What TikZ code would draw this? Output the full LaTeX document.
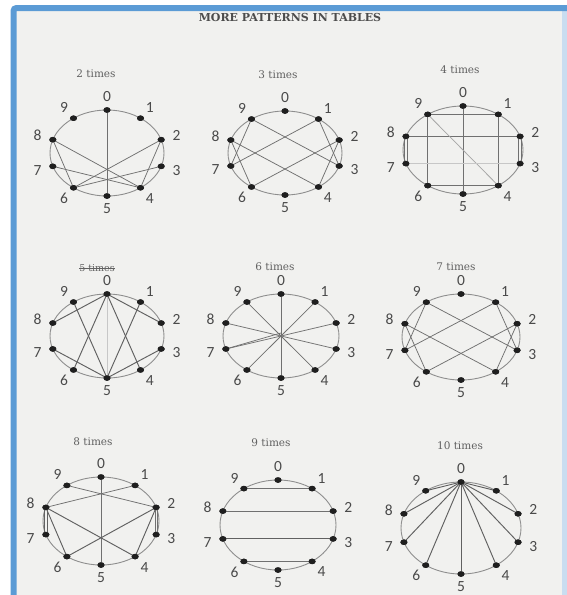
\documentclass[tikz,border=0pt]{standalone}
\usepackage{fontspec}
\setmainfont{DejaVu Serif}
\newfontfamily\digitfont{Carlito}
\usetikzlibrary{calc,shapes.geometric}
\definecolor{frameblue}{HTML}{5B9BD5}
\definecolor{paleblue}{HTML}{C9DDF0}
\definecolor{paper}{HTML}{F1F1EF}
\definecolor{ink}{HTML}{707070}
\definecolor{rim}{HTML}{8E8E8E}
\definecolor{numink}{HTML}{4A4A4A}
\tikzset{
  x=1pt, y=-1pt,
  dot/.style={ellipse, fill=black!88, inner sep=0pt, minimum width=7pt, minimum height=5.5pt},
  numlab/.style={font=\digitfont\fontsize{15.5}{15.5}\selectfont, text=numink, inner sep=0pt},
  rimline/.style={draw=rim, line width=0.9pt},
  chord/.style={draw=ink, line width=0.75pt},
  darkchord/.style={draw=black!62, line width=0.95pt},
  faintchord/.style={draw=black!22, line width=0.5pt},
  ttl/.style={font=\fontsize{10.5}{10.5}\selectfont, text=black!62, inner sep=0pt},
  headttl/.style={font=\bfseries\fontsize{11}{11}\selectfont, text=black!70, inner sep=0pt},
}
\newcommand\clockface[5]{%
  \draw[rimline] (#2,#3) ellipse [x radius=#4, y radius=#5];
  \foreach \i in {0,...,9} {
    \pgfmathsetmacro\ang{90-36*\i}
    \node[dot] (#1\i) at ({#2+#4*cos(\ang)},{#3-#5*sin(\ang)}) {};
    \node[numlab] (#1l\i) at ({#2+(#4+16)*cos(\ang)},{#3-(#5+13)*sin(\ang)}) {\i};
  }
}
\begin{document}
\begin{tikzpicture}
\useasboundingbox (0,0) rectangle (567,595);
\fill[white] (0,0) rectangle (567,595);
\fill[paper] (13,8) rectangle (567,595);
\fill[paleblue] (562,8) rectangle (567,595);
\draw[frameblue, line width=6pt, rounded corners=3pt] (13.5,600) -- (13.5,8) -- (600,8);

\node[headttl] (head) at (290,17) {MORE PATTERNS IN TABLES};

% titles
\node[ttl] (t2) at (96,74) {2 times};
\node[ttl] (t3) at (278,75) {3 times};
\node[ttl] (t4) at (460,70) {4 times};
\node[ttl, font=\fontsize{9.5}{9.5}\selectfont] (t5) at (97,268) {5 times};
\draw[black!62, line width=0.6pt] (t5.west) -- (t5.east);
\node[ttl] (t6) at (275,267) {6 times};
\node[ttl] (t7) at (456,267) {7 times};
\node[ttl] (t8) at (93,442) {8 times};
\node[ttl] (t9) at (271,443) {9 times};
\node[ttl] (t10) at (460,446) {10 times};

% 2 times
\clockface{a}{107}{153}{57}{43}
\draw[chord] (a0.center) -- (a5.center);
\draw[chord] (a8.center) -- (a4.center);
\draw[chord] (a8.center) -- (a6.center);
\draw[chord] (a7.center) -- (a4.center);
\draw[chord] (a6.center) -- (a2.center);
\draw[chord] (a6.center) -- (a3.center);
\draw[chord] (a4.center) -- (a2.center);

% 3 times
\clockface{b}{285}{153}{57}{42}
\draw[chord] (b9.center) -- (b3.center);
\draw[chord] (b9.center) -- (b7.center);
\draw[chord] (b7.center) -- (b1.center);
\draw[chord] (b1.center) -- (b3.center);
\draw[chord] (b8.center) -- (b4.center);
\draw[chord] (b8.center) -- (b6.center);
\draw[chord] (b6.center) -- (b2.center);
\draw[chord] (b2.center) -- (b4.center);

% 4 times
\clockface{c}{463}{150}{60}{44}
\draw[chord] (c0.center) -- (c5.center);
\draw[chord] (c9.center) -- (c1.center);
\draw[chord] (c1.center) -- (c4.center);
\draw[chord] (c9.center) -- (c6.center);
\draw[chord] (c6.center) -- (c4.center);
\draw[chord] (c8.center) -- (c2.center);
\draw[chord, draw=black!35] (c9.center) -- (c4.center);
\draw[faintchord] (c7.center) -- (c3.center);
\draw[chord] ([xshift=-1.3pt]c8.center) -- ([xshift=-1.3pt]c7.center);
\draw[chord] ([xshift=1.3pt]c8.center) -- ([xshift=1.3pt]c7.center);
\draw[chord] ([xshift=-1.3pt]c2.center) -- ([xshift=-1.3pt]c3.center);
\draw[chord] ([xshift=1.3pt]c2.center) -- ([xshift=1.3pt]c3.center);

% 5 times
\clockface{d}{107}{336}{57}{42}
\draw[faintchord] (d0.center) -- (d5.center);
\draw[darkchord] (d0.center) -- (d8.center);
\draw[darkchord] (d0.center) -- (d6.center);
\draw[darkchord] (d0.center) -- (d4.center);
\draw[darkchord] (d0.center) -- (d2.center);
\draw[darkchord] (d5.center) -- (d9.center);
\draw[darkchord] (d5.center) -- (d1.center);
\draw[darkchord] (d5.center) -- (d7.center);
\draw[darkchord] (d5.center) -- (d3.center);

% 6 times
\clockface{e}{281}{336}{58}{42}
\coordinate (ecen) at (281,333);
\draw[chord] (e0.center) -- (e5.center);
\draw[chord] (e1.center) -- (e6.center);
\draw[chord] (e2.center) -- (e7.center);
\draw[chord] (e3.center) -- (e8.center);
\draw[chord] (e4.center) -- (e9.center);
\draw[chord] (e7.center) -- (ecen);

% 7 times
\clockface{f}{461}{337}{59}{43}
\draw[chord] (f1.center) -- (f7.center);
\draw[chord] (f7.center) -- (f9.center);
\draw[chord] (f9.center) -- (f3.center);
\draw[chord] (f3.center) -- (f1.center);
\draw[chord] (f2.center) -- (f4.center);
\draw[chord] (f4.center) -- (f8.center);
\draw[chord] (f8.center) -- (f6.center);
\draw[chord] (f6.center) -- (f2.center);

% 8 times
\clockface{g}{101}{521}{58}{44}
\draw[chord] (g0.center) -- (g5.center);
\draw[chord] (g1.center) -- (g8.center);
\draw[chord] (g9.center) -- (g2.center);
\draw[darkchord] (g8.center) -- (g4.center);
\draw[darkchord] (g8.center) -- (g6.center);
\draw[darkchord] (g2.center) -- (g6.center);
\draw[darkchord] (g2.center) -- (g4.center);
\draw[darkchord] ([xshift=-1.3pt]g8.center) -- ([xshift=-1.3pt]g7.center);
\draw[darkchord] ([xshift=1.3pt]g8.center) -- ([xshift=1.3pt]g7.center);
\draw[chord] ([xshift=-1.2pt]g2.center) -- ([xshift=-1.2pt]g3.center);
\draw[chord] ([xshift=1.2pt]g2.center) -- ([xshift=1.2pt]g3.center);

% 9 times
\clockface{h}{278}{525}{58}{45}
\draw[chord] (h9.center) -- (h1.center);
\draw[chord] (h8.center) -- (h2.center);
\draw[darkchord] (h7.center) -- (h3.center);
\draw[chord] (h6.center) -- (h4.center);

% 10 times
\clockface{k}{461}{528}{60}{46}
\foreach \j in {1,...,9} {
  \draw[darkchord] (k0.center) -- (k\j.center);
}

% redraw dots on top of the chords
\foreach \p in {a,b,c,d,e,f,g,h,k} {
  \foreach \i in {0,...,9} {
    \fill[black!88] (\p\i.center) ellipse [x radius=3.5, y radius=2.75];
  }
}
\end{tikzpicture}
\end{document}
